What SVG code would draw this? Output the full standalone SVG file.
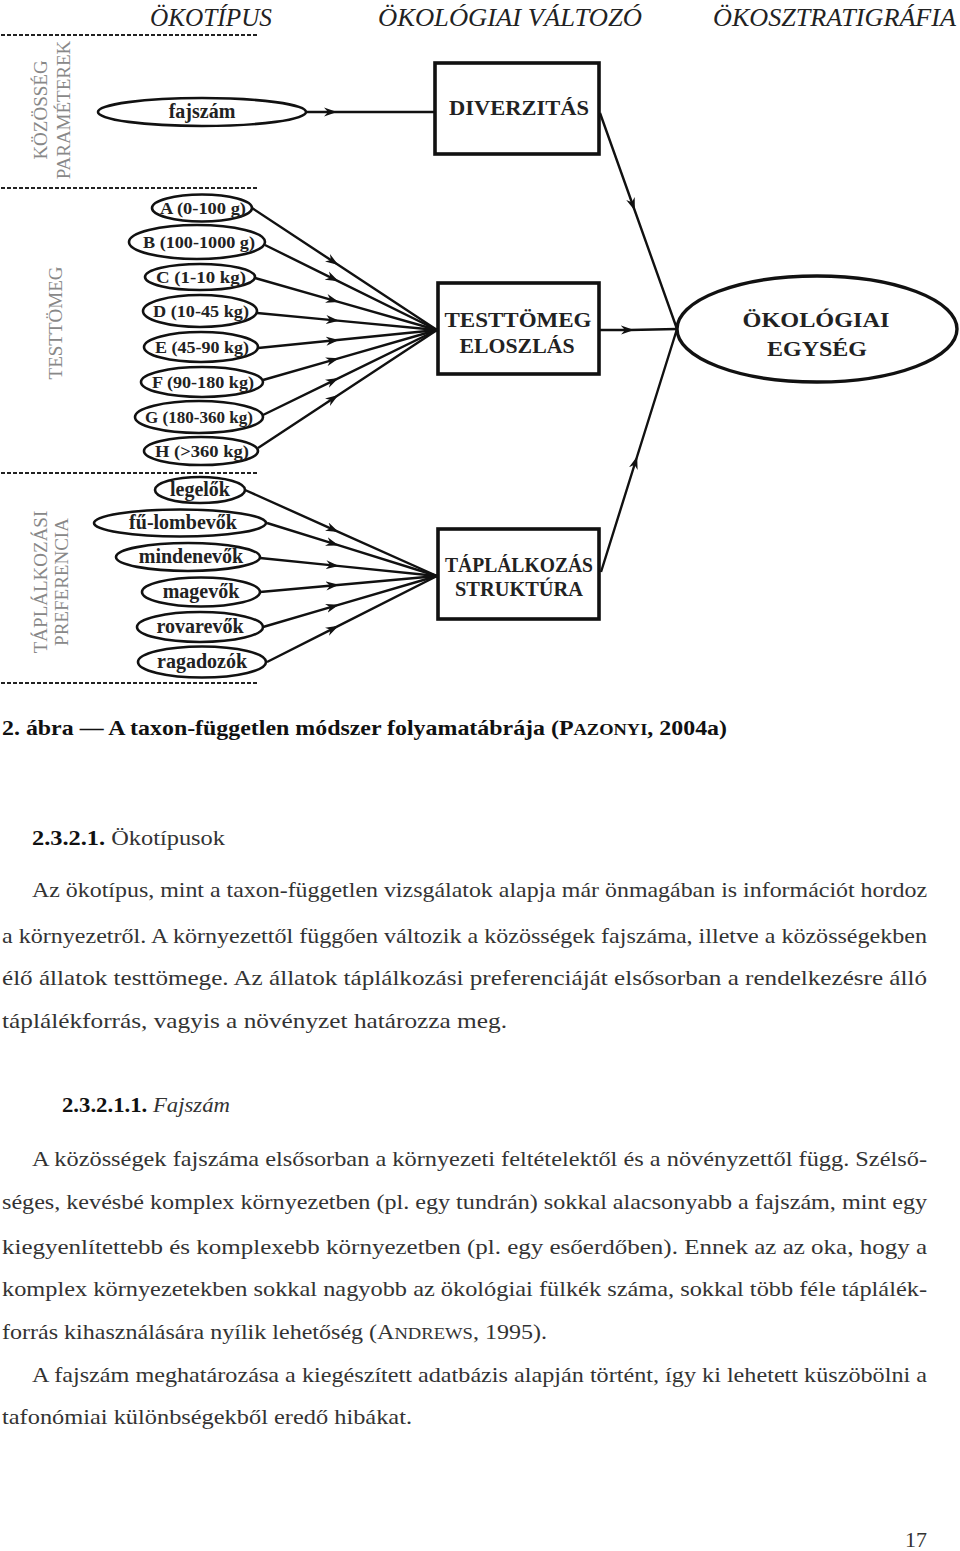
<svg xmlns="http://www.w3.org/2000/svg" width="960" height="1551" viewBox="0 0 960 1551">
<style>
.hdr{font-family:"Liberation Serif",serif;font-style:italic;font-size:25px;fill:#222}
.side{font-family:"Liberation Serif",serif;font-size:19px;fill:#888}
.dash{stroke:#222;stroke-width:2.2;stroke-dasharray:4 2}
.ell{fill:#fff;stroke:#111;stroke-width:2.6}
.box{fill:#fff;stroke:#111;stroke-width:3.6}
.lbl{font-family:"Liberation Serif",serif;font-weight:bold;font-size:17px;fill:#222;text-anchor:middle}
.big{font-family:"Liberation Serif",serif;font-weight:bold;font-size:22px;fill:#222;text-anchor:middle}
.con{fill:none;stroke:#111;stroke-width:2.4}
.body{font-family:"Liberation Serif",serif;font-size:22px;fill:#333}
.cap{font-family:"Liberation Serif",serif;font-weight:bold;font-size:22px;fill:#111}
</style>
<defs>
<marker id="ah" viewBox="0 0 14 10" refX="9" refY="5" markerWidth="14" markerHeight="10" markerUnits="userSpaceOnUse" orient="auto">
<path d="M0,0.5 L13,5 L0,9.5 L4,5 Z" fill="#111"/>
</marker>
</defs>

<g id="headers">
<text class="hdr" x="150" y="26" textLength="122" lengthAdjust="spacingAndGlyphs">ÖKOTÍPUS</text>
<text class="hdr" x="378" y="26" textLength="264" lengthAdjust="spacingAndGlyphs">ÖKOLÓGIAI VÁLTOZÓ</text>
<text class="hdr" x="713" y="26" textLength="243" lengthAdjust="spacingAndGlyphs">ÖKOSZTRATIGRÁFIA</text>
</g>

<g id="separators">
<line class="dash" x1="1" y1="35" x2="258" y2="35"/>
<line class="dash" x1="1" y1="188" x2="258" y2="188"/>
<line class="dash" x1="1" y1="473" x2="258" y2="473"/>
<line class="dash" x1="1" y1="683" x2="258" y2="683"/>
</g>

<g id="side-labels">
<text class="side" transform="translate(47,110) rotate(-90)" text-anchor="middle">KÖZÖSSÉG</text>
<text class="side" transform="translate(70,110) rotate(-90)" text-anchor="middle">PARAMÉTEREK</text>
<text class="side" transform="translate(62,323) rotate(-90)" text-anchor="middle">TESTTÖMEG</text>
<text class="side" transform="translate(47,582) rotate(-90)" text-anchor="middle">TÁPLÁLKOZÁSI</text>
<text class="side" transform="translate(68,582) rotate(-90)" text-anchor="middle">PREFERENCIA</text>
</g>

<g id="connectors">
<polyline class="con" marker-mid="url(#ah)" points="307,112 333,112 435,112"/>
<polyline class="con" marker-mid="url(#ah)" points="252,208 335,262.8 437,330"/>
<polyline class="con" marker-mid="url(#ah)" points="265,245 335,279.6 437,330"/>
<polyline class="con" marker-mid="url(#ah)" points="255,278 335,300.9 437,330"/>
<polyline class="con" marker-mid="url(#ah)" points="257,313 335,320.4 437,330"/>
<polyline class="con" marker-mid="url(#ah)" points="258,348 335,340.3 437,330"/>
<polyline class="con" marker-mid="url(#ah)" points="263,380 335,359.3 437,330"/>
<polyline class="con" marker-mid="url(#ah)" points="263,415 335,379.8 437,330"/>
<polyline class="con" marker-mid="url(#ah)" points="258,448 335,397.3 437,330"/>
<polyline class="con" marker-mid="url(#ah)" points="245,490 335,530.3 437,576"/>
<polyline class="con" marker-mid="url(#ah)" points="267,523 335,544.2 437,576"/>
<polyline class="con" marker-mid="url(#ah)" points="260,558 335,565.6 437,576"/>
<polyline class="con" marker-mid="url(#ah)" points="260,592 335,585.2 437,576"/>
<polyline class="con" marker-mid="url(#ah)" points="263,627 335,605.9 437,576"/>
<polyline class="con" marker-mid="url(#ah)" points="267,662 335,627.6 437,576"/>
<polyline class="con" marker-mid="url(#ah)" points="600,113 633.5,207 677,329"/>
<polyline class="con" marker-mid="url(#ah)" points="599,330 630,330 677,329"/>
<polyline class="con" marker-mid="url(#ah)" points="601,572 636,460 677,329"/>
</g>

<g id="n-fajszam"><ellipse class="ell" cx="202" cy="112" rx="104" ry="14"/><text class="lbl" x="202" y="118" style="font-size:20px">fajszám</text></g>

<g id="n-A"><ellipse class="ell" cx="202" cy="208" rx="50" ry="13.5"/><text class="lbl" x="203" y="214" textLength="86" lengthAdjust="spacingAndGlyphs">A (0-100 g)</text></g>
<g id="n-B"><ellipse class="ell" cx="197" cy="242" rx="68" ry="17"/><text class="lbl" x="199" y="248" textLength="112" lengthAdjust="spacingAndGlyphs">B (100-1000 g)</text></g>
<g id="n-C"><ellipse class="ell" cx="200" cy="277" rx="55" ry="13"/><text class="lbl" x="201" y="283" textLength="90" lengthAdjust="spacingAndGlyphs">C (1-10 kg)</text></g>
<g id="n-D"><ellipse class="ell" cx="200" cy="311" rx="57" ry="16"/><text class="lbl" x="201" y="317" textLength="96" lengthAdjust="spacingAndGlyphs">D (10-45 kg)</text></g>
<g id="n-E"><ellipse class="ell" cx="201" cy="347" rx="57" ry="15"/><text class="lbl" x="202" y="353" textLength="94" lengthAdjust="spacingAndGlyphs">E (45-90 kg)</text></g>
<g id="n-F"><ellipse class="ell" cx="202" cy="382" rx="61" ry="15"/><text class="lbl" x="203" y="388" textLength="102" lengthAdjust="spacingAndGlyphs">F (90-180 kg)</text></g>
<g id="n-G"><ellipse class="ell" cx="199" cy="417" rx="64" ry="16"/><text class="lbl" x="199" y="423" textLength="108" lengthAdjust="spacingAndGlyphs">G (180-360 kg)</text></g>
<g id="n-H"><ellipse class="ell" cx="201" cy="451" rx="57" ry="14"/><text class="lbl" x="202" y="457" textLength="94" lengthAdjust="spacingAndGlyphs">H (&gt;360 kg)</text></g>

<g id="n-legelok"><ellipse class="ell" cx="200" cy="490" rx="45" ry="13"/><text class="lbl" x="200" y="496" style="font-size:20px">legelők</text></g>
<g id="n-fulombevok"><ellipse class="ell" cx="180" cy="523" rx="86" ry="13.5"/><text class="lbl" x="183" y="529" style="font-size:20px">fű-lombevők</text></g>
<g id="n-mindenevok"><ellipse class="ell" cx="188" cy="557" rx="72" ry="14"/><text class="lbl" x="191" y="563" style="font-size:20px">mindenevők</text></g>
<g id="n-magevok"><ellipse class="ell" cx="201" cy="592" rx="59" ry="14.5"/><text class="lbl" x="201" y="598" style="font-size:20px">magevők</text></g>
<g id="n-rovarevok"><ellipse class="ell" cx="200" cy="627" rx="63" ry="15"/><text class="lbl" x="200" y="633" style="font-size:20px">rovarevők</text></g>
<g id="n-ragadozok"><ellipse class="ell" cx="202" cy="662" rx="64" ry="15.5"/><text class="lbl" x="202" y="668" style="font-size:20px">ragadozók</text></g>

<g id="n-diverzitas"><rect class="box" x="435" y="63" width="164" height="91"/><text class="big" x="519" y="115" textLength="140" lengthAdjust="spacingAndGlyphs">DIVERZITÁS</text></g>
<g id="n-testtomeg"><rect class="box" x="438" y="283" width="161" height="91"/><text class="big" x="518" y="327" textLength="147" lengthAdjust="spacingAndGlyphs">TESTTÖMEG</text><text class="big" x="517" y="353" textLength="115" lengthAdjust="spacingAndGlyphs">ELOSZLÁS</text></g>
<g id="n-taplalkozas"><rect class="box" x="438" y="529" width="161" height="90"/><text class="big" x="519" y="572" textLength="148" lengthAdjust="spacingAndGlyphs">TÁPLÁLKOZÁS</text><text class="big" x="519" y="596" textLength="128" lengthAdjust="spacingAndGlyphs">STRUKTÚRA</text></g>
<g id="n-okologiai"><ellipse class="ell" cx="817" cy="329" rx="140" ry="53" style="stroke-width:3.4"/><text class="big" x="816" y="327" textLength="147" lengthAdjust="spacingAndGlyphs">ÖKOLÓGIAI</text><text class="big" x="817" y="356" textLength="100" lengthAdjust="spacingAndGlyphs">EGYSÉG</text></g>

<g id="text">
<text class="cap" x="2" y="735" textLength="725" lengthAdjust="spacingAndGlyphs">2. ábra — A taxon-független módszer folyamatábrája (P<tspan style="font-size:17px">AZONYI</tspan>, 2004a)</text>
<text class="body" x="32" y="845" textLength="193" lengthAdjust="spacingAndGlyphs"><tspan font-weight="bold" fill="#111">2.3.2.1.</tspan> Ökotípusok</text>
<text class="body" x="32" y="897" textLength="895" lengthAdjust="spacingAndGlyphs">Az ökotípus, mint a taxon-független vizsgálatok alapja már önmagában is információt hordoz</text>
<text class="body" x="2" y="943" textLength="925" lengthAdjust="spacingAndGlyphs">a környezetről. A környezettől függően változik a közösségek fajszáma, illetve a közösségekben</text>
<text class="body" x="2" y="985" textLength="925" lengthAdjust="spacingAndGlyphs">élő állatok testtömege. Az állatok táplálkozási preferenciáját elsősorban a rendelkezésre álló</text>
<text class="body" x="2" y="1028" textLength="505" lengthAdjust="spacingAndGlyphs">táplálékforrás, vagyis a növényzet határozza meg.</text>
<text class="body" x="62" y="1112" textLength="168" lengthAdjust="spacingAndGlyphs"><tspan font-weight="bold" fill="#111">2.3.2.1.1.</tspan> <tspan font-style="italic">Fajszám</tspan></text>
<text class="body" x="32" y="1166" textLength="895" lengthAdjust="spacingAndGlyphs">A közösségek fajszáma elsősorban a környezeti feltételektől és a növényzettől függ. Szélső-</text>
<text class="body" x="2" y="1209" textLength="925" lengthAdjust="spacingAndGlyphs">séges, kevésbé komplex környezetben (pl. egy tundrán) sokkal alacsonyabb a fajszám, mint egy</text>
<text class="body" x="2" y="1254" textLength="925" lengthAdjust="spacingAndGlyphs">kiegyenlítettebb és komplexebb környezetben (pl. egy esőerdőben). Ennek az az oka, hogy a</text>
<text class="body" x="2" y="1296" textLength="925" lengthAdjust="spacingAndGlyphs">komplex környezetekben sokkal nagyobb az ökológiai fülkék száma, sokkal több féle táplálék-</text>
<text class="body" x="2" y="1339" textLength="545" lengthAdjust="spacingAndGlyphs">forrás kihasználására nyílik lehetőség (A<tspan style="font-size:17px">NDREWS</tspan>, 1995).</text>
<text class="body" x="32" y="1382" textLength="895" lengthAdjust="spacingAndGlyphs">A fajszám meghatározása a kiegészített adatbázis alapján történt, így ki lehetett küszöbölni a</text>
<text class="body" x="2" y="1424" textLength="410" lengthAdjust="spacingAndGlyphs">tafonómiai különbségekből eredő hibákat.</text>
<text class="body" x="905" y="1547">17</text>
</g>
</svg>
